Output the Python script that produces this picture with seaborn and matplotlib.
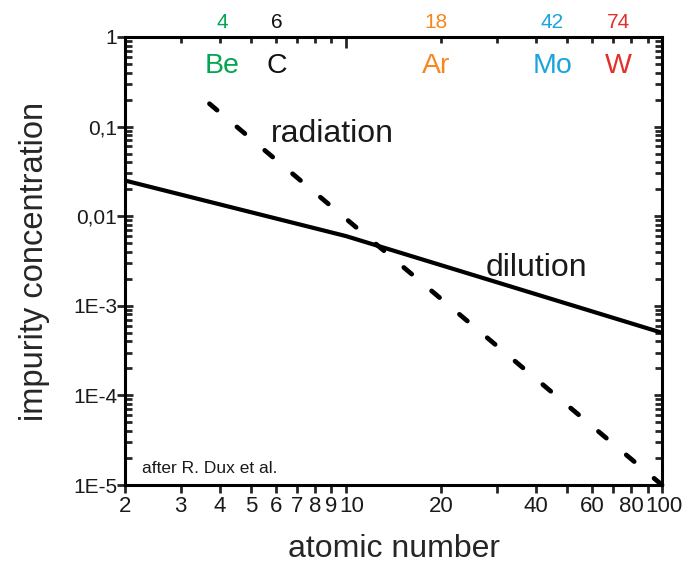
import matplotlib
matplotlib.use("Agg")
import matplotlib.pyplot as plt
import matplotlib.ticker as mticker
import matplotlib.lines as mlines
import matplotlib.transforms as mtransforms
import seaborn as sns
import pandas as pd

# dilution limit (solid) and radiation limit (dashed) vs. atomic number
dilution_z = [2, 10, 100]
dilution_c = [0.025, 0.006, 0.0005]
radiation_z = [3.7, 100]
radiation_c = [0.18, 1e-5]

# impurity elements marked along the top
elements = ["Be", "C", "Ar", "Mo", "W"]
element_z = [4, 6, 18, 42, 74]
element_colors = ["#00a651", "#111111", "#f7861e", "#1aa3dc", "#e2312b"]

x_ticks = [2, 3, 4, 5, 6, 7, 8, 9, 10, 20, 40, 60, 80, 100]
x_minor = [30, 50, 70, 90]
y_ticks = [1e-5, 1e-4, 1e-3, 1e-2, 1e-1, 1]
y_labels = ["1E-5", "1E-4", "1E-3", "0,01", "0,1", "1"]

sns.set_theme(style="ticks")
plt.rcParams["font.family"] = ["Liberation Sans", "DejaVu Sans"]
plt.rcParams["text.color"] = "#1a1a1a"

fig = plt.figure(figsize=(6.83, 5.65), dpi=100)
ax = fig.add_axes([125 / 683, 1 - 485 / 565, (662 - 125) / 683, (485 - 37) / 565])

dil = pd.DataFrame({"z": dilution_z, "c": dilution_c})
# the dashed limit is traced from its low-concentration end so a dash sits at the corner
rad = pd.DataFrame({"z": radiation_z, "c": radiation_c}).iloc[::-1]
sns.lineplot(data=dil, x="z", y="c", ax=ax, color="black", lw=3.0)
sns.lineplot(data=rad, x="z", y="c", ax=ax, color="black", lw=3.4, sort=False)
dash_line = ax.lines[-1]
dash_line.set_dashes([2.2, 5.5])
dash_line.set_dash_capstyle("round")
dash_line.set_clip_on(False)

ax.set_xscale("log")
ax.set_yscale("log")
ax.set_xlim(2, 100)
ax.set_ylim(1e-5, 1)

ax.xaxis.set_major_locator(mticker.FixedLocator(x_ticks))
ax.xaxis.set_minor_locator(mticker.FixedLocator(x_minor))
ax.set_xticklabels([str(v) for v in x_ticks])
ax.yaxis.set_major_locator(mticker.FixedLocator(y_ticks))
ax.yaxis.set_minor_locator(mticker.LogLocator(base=10, subs=range(2, 10)))
ax.set_yticklabels(y_labels)
ax.yaxis.set_minor_formatter(mticker.NullFormatter())

for s in ax.spines.values():
    s.set_linewidth(2.2)
    s.set_color("black")

ax.tick_params(axis="x", which="major", direction="out", length=6, width=2,
               labelsize=16, pad=2, top=True, labeltop=False,
               labelcolor="#1a1a1a")
ax.tick_params(axis="x", which="minor", direction="out", length=6, width=2,
               top=True)
ax.tick_params(axis="y", which="major", direction="inout", length=11, width=2,
               labelsize=15, pad=0, right=True, labelcolor="#1a1a1a")
ax.tick_params(axis="y", which="minor", direction="in", length=5, width=2,
               right=True)
# top and right ticks point inward
for t in ax.xaxis.get_major_ticks() + ax.xaxis.get_minor_ticks():
    t.tick2line.set_marker(mlines.TICKDOWN)
    t.tick2line.set_markersize(4)
for t in ax.yaxis.get_major_ticks():
    t.tick2line.set_marker(mlines.TICKLEFT)
    t.tick2line.set_markersize(6)
ax.xaxis.get_major_ticks()[8].tick2line.set_markersize(8)

# nudge the crowded "10" and "100" labels a little to the right
for idx, dx in [(8, 4.0), (13, 1.0)]:
    lab = ax.xaxis.get_major_ticks()[idx].label1
    lab.set_transform(lab.get_transform()
                      + mtransforms.ScaledTranslation(dx / 72, 0, fig.dpi_scale_trans))

ax.set_xlabel("atomic number", fontsize=23, labelpad=12)
ax.set_ylabel("impurity concentration", fontsize=23.5, labelpad=17)

# element labels sit slightly right of their Z for Ar and Mo
label_x = [4.05, 6.05, 19.3, 45, 73]
for name, z, lx, col in zip(elements, element_z, label_x, element_colors):
    ax.text(lx, 1.0 + 9 / 448, str(z), transform=ax.get_xaxis_transform(),
            ha="center", va="baseline", fontsize=15, color=col)
    ax.text(lx, 1.0 - 36 / 448, name, transform=ax.get_xaxis_transform(),
            ha="center", va="baseline", fontsize=20.5, color=col)

ax.text(9.04, 0.067, "radiation", ha="center", va="baseline", fontsize=23)
ax.text(40.2, 0.00215, "dilution", ha="center", va="baseline", fontsize=23)
ax.text(0.032, 0.027, "after R. Dux et al.", transform=ax.transAxes,
        ha="left", va="baseline", fontsize=12.5)

fig.savefig("out.png", dpi=100)
